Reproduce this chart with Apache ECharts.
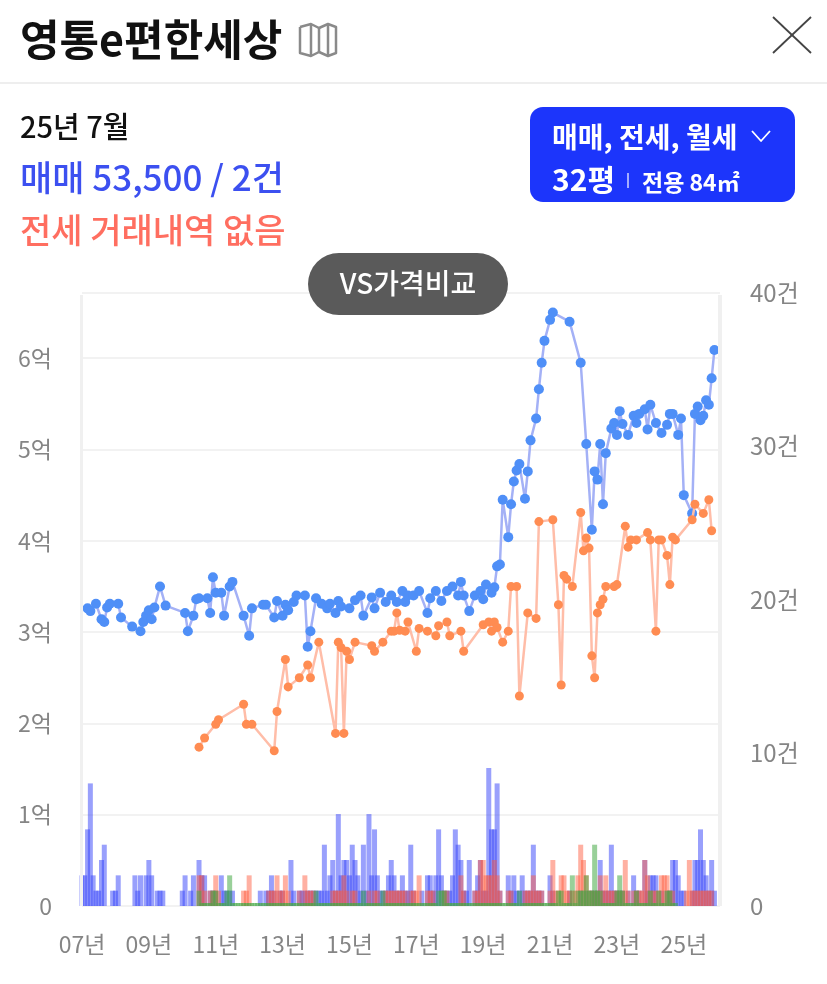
<!DOCTYPE html>
<html><head><meta charset="utf-8">
<style>html,body{margin:0;padding:0;background:#fff}#c{width:827px;height:984px}</style>
<script src="https://cdn.jsdelivr.net/npm/echarts@6/dist/echarts.min.js"></script>
</head><body><div id="c"></div>
<script>
const FONT='"Noto Sans CJK KR","Noto Sans",sans-serif';
const years=[7,8,9,10,11,12,13,14,15,16,17,18,19,20,21,22,23,24,25];
const saleMonthIdx=[2,3,5,7,8,9,10,13,14,18,21,22,23,24,25,26,28,30,37,38,40,41,42,45,46,47,48,50,51,53,54,58,60,61,65,66,69,70,72,73,74,76,77,80,81,82,84,86,88,89,91,92,93,96,98,100,101,104,105,107,109,111,113,115,116,117,119,121,124,125,127,129,131,133,135,136,137,139,141,143,144,145,147,148,149,150,151,153,154,155,156,157,159,160,161,163,164,165,166,168,169,175,179,181,183,184,185,186,187,188,190,191,192,193,194,196,198,199,200,202,203,204,206,208,210,211,212,214,215,216,219,220,221,222,223,224,225,226,227];
const salePrice=[3.26,3.23,3.31,3.14,3.11,3.27,3.31,3.31,3.16,3.06,3.01,3.11,3.18,3.24,3.14,3.27,3.50,3.29,3.21,3.01,3.18,3.36,3.37,3.37,3.21,3.60,3.43,3.43,3.18,3.50,3.55,3.18,2.96,3.26,3.30,3.30,3.16,3.34,3.18,3.30,3.24,3.33,3.40,3.40,2.84,3.01,3.37,3.31,3.26,3.31,3.21,3.34,3.28,3.26,3.35,3.40,3.18,3.38,3.26,3.43,3.33,3.40,3.33,3.45,3.33,3.40,3.40,3.45,3.21,3.37,3.45,3.34,3.45,3.50,3.40,3.55,3.40,3.23,3.40,3.45,3.36,3.52,3.43,3.49,3.72,3.74,4.45,4.04,4.40,4.65,4.77,4.84,4.46,4.76,5.10,5.34,5.66,5.95,6.19,6.42,6.50,6.40,5.95,5.06,4.12,4.76,4.67,5.06,4.40,4.96,5.23,5.29,5.16,5.42,5.28,5.16,5.37,5.29,5.39,5.44,5.22,5.49,5.29,5.18,5.27,5.39,5.39,5.16,5.34,4.50,4.30,5.39,5.47,5.32,5.37,5.54,5.49,5.78,6.09];
const leaseMonthIdx=[42,44,48,49,58,59,61,69,70,73,74,78,81,82,85,91,92,93,94,95,96,98,104,105,108,111,112,113,114,116,117,120,121,124,127,128,131,132,136,137,144,146,147,148,149,151,153,154,156,157,160,163,164,169,171,172,173,174,176,179,180,181,182,183,184,185,186,187,188,191,192,195,196,197,199,203,204,206,207,208,210,211,212,213,219,220,223,225,226];
const leasePrice=[1.74,1.84,1.99,2.04,2.21,1.99,1.99,1.70,2.13,2.70,2.40,2.50,2.64,2.50,2.89,1.89,2.89,2.83,1.89,2.79,2.70,2.89,2.85,2.79,2.89,3.01,3.01,3.21,3.02,3.01,3.11,2.79,3.04,3.01,2.96,3.07,3.11,2.96,3.01,2.79,3.08,3.11,3.01,3.11,3.05,2.89,3.01,3.50,3.50,2.30,3.21,3.15,4.21,4.23,3.30,2.42,3.62,3.58,3.50,4.31,3.89,4.03,3.92,2.74,2.50,3.21,3.30,3.36,3.50,3.50,3.52,4.16,3.93,4.01,4.01,4.09,4.01,3.01,4.01,4.01,3.84,3.52,4.04,4.01,4.23,4.40,4.30,4.45,4.11];
const saleVolume=[2,2,5,8,2,1,1,3,4,0,0,1, 1,2,0,0,0,0,0,2,1,2,0,2, 3,2,0,1,1,1,0,0,0,0,0,0, 1,2,0,1,2,0,3,2,2,0,1,1, 1,0,2,1,1,1,1,0,0,0,0,0, 0,0,0,0,1,0,1,1,2,1,0,1, 1,0,0,3,1,0,1,1,1,1,1,1, 1,1,1,4,1,2,3,1,6,2,3,3, 2,4,3,2,1,4,1,6,2,5,2,1, 1,1,2,3,2,1,1,2,1,1,4,1, 0,0,1,0,2,2,1,2,5,2,1,1, 1,2,5,4,3,1,1,3,0,1,2,3, 1,1,9,5,5,8,1,0,0,2,1,2, 1,1,2,1,1,1,4,1,1,1,0,0, 2,1,0,0,0,0,0,1,0,0,0,1, 0,1,0,1,1,1,3,1,1,1,4,1, 1,1,1,0,1,0,2,1,1,0,3,1, 2,2,2,0,1,0,1,1,3,3,2,1, 1,0,0,1,3,3,5,3,2,1,3,1];
const leaseVolume=[0,0,0,0,0,0,0,0,0,0,0,0, 0,0,0,0,0,0,0,0,0,0,0,0, 0,0,0,0,0,0,0,0,0,0,0,0, 0,0,0,0,0,0,2,2,1,0,1,1, 2,1,0,0,0,0,0,0,0,0,1,1, 2,0,0,0,0,0,0,1,1,1,2,1, 1,2,1,0,0,0,1,0,2,1,1,1, 0,0,0,0,0,0,1,1,1,1,2,1, 0,1,1,0,0,0,0,1,0,1,1,0, 0,1,1,1,1,1,1,1,1,0,1,1, 1,2,0,0,1,1,1,0,0,0,1,1, 0,0,0,0,2,1,0,0,0,1,1,3, 3,2,2,2,3,2,1,0,0,1,1,0, 0,0,0,1,1,1,2,1,1,1,0,0, 1,3,1,1,2,2,1,1,1,1,2,4, 3,2,1,1,1,1,2,1,2,1,1,1, 1,1,1,3,1,0,1,1,1,1,3,2, 1,1,1,1,2,2,2,1,1,0,0,0, 0,1,3,1,1,1,1,1,1,1,1,0];
const rentVolume=[null,null,null,null,null,null,null,null,null,null,null,null, null,null,null,null,null,null,null,null,null,null,null,null, null,null,null,null,null,null,null,null,null,null,null,null, null,null,null,null,null,null,1,0,0,0,0,1, 1,0,0,0,1,2,0,0,0,0,0,0, 0,0,0,0,0,0,0,0,0,0,0,0, 0,0,0,0,0,0,0,0,0,0,0,0, 1,0,0,0,0,0,0,0,0,0,0,0, 0,0,0,0,0,1,0,0,0,0,0,0, 1,0,0,0,0,0,0,0,0,0,0,0, 0,0,0,0,0,0,0,0,1,1,1,0, 0,0,0,0,0,0,0,0,0,0,0,0, 0,0,0,0,0,0,0,0,0,0,0,0, 0,1,0,0,0,0,0,0,0,0,0,0, 0,0,0,1,1,0,0,0,2,0,1,1, 1,2,1,1,4,1,1,0,0,0,0,0, 1,2,1,0,0,0,0,1,0,0,0,0, 1,0,0,1,0,0,1,1,0,0,null,null, null,null,null,null,null,null,null,null,null,null,null,null];
const extraMonths=['26-01','26-02'];
const priceTicks=['0','1억','2억','3억','4억','5억','6억'];
const headerTitle='영통e편한세상', dateText='25년 7월', saleText='매매 53,500 / 2건', leaseText='전세 거래내역 없음';
const filterText='매매, 전세, 월세', pyeongText='32평', areaText='전용 84㎡', compareText='VS가격비교';

const categories=[];
years.forEach(y=>{for(let m=1;m<=12;m++)categories.push(String(y).padStart(2,'0')+'-'+String(m).padStart(2,'0'));});
categories.push(...extraMonths);
const pairs=(xs,ys)=>xs.map((x,i)=>[x,ys[i]]);
const txt=(x,y,text,size,color,weight,extra)=>({type:'text',x,y,z:100,style:Object.assign({text,fontSize:size,fill:color,fontWeight:weight||'normal',fontFamily:FONT,verticalAlign:'middle',align:'left'},extra||{})});
const ln=(x1,y1,x2,y2,color,w)=>({type:'line',z:100,shape:{x1,y1,x2,y2},style:{stroke:color,lineWidth:w}});
const poly=(points,color,w)=>({type:'polyline',z:100,shape:{points},style:{stroke:color,lineWidth:w,fill:null,lineJoin:'round'}});

const chart=echarts.init(document.getElementById('c'),null,{renderer:'canvas'});
const bar=(data,color,z)=>({type:'bar',xAxisIndex:0,yAxisIndex:1,data,barWidth:5,barGap:'-100%',itemStyle:{color},z,silent:true,animation:false});
chart.setOption({
 animation:false,
 backgroundColor:'#fff',
 grid:{left:82,right:107,top:293,bottom:78},
 xAxis:{type:'category',data:categories,boundaryGap:false,
  axisLine:{show:false},axisTick:{show:false},splitLine:{show:false},
  axisLabel:{interval:(i)=>i%24===0&&i<=216,color:'#858585',fontSize:23,fontFamily:FONT,margin:27,hideOverlap:false,formatter:v=>v.slice(0,2)+'년'}},
 yAxis:[
  {type:'value',min:0,max:6.714,interval:1,axisLine:{show:false},axisTick:{show:false},
   splitLine:{lineStyle:{color:'#eeeeee',width:1.5}},
   axisLabel:{color:'#858585',fontSize:23,fontFamily:FONT,margin:30,showMaxLabel:false,formatter:v=>priceTicks[Math.round(v)]||''}},
  {type:'value',min:0,max:40,interval:10,position:'right',axisLine:{show:false},axisTick:{show:false},splitLine:{show:false},
   axisLabel:{color:'#858585',fontSize:24,fontFamily:FONT,margin:30,formatter:v=>v===0?'0':v+'건'}}
 ],
 series:[
  bar(saleVolume,'rgba(52,66,250,0.5)',2),
  bar(leaseVolume,'rgba(255,90,60,0.48)',3),
  Object.assign(bar(rentVolume,'rgba(70,170,70,0.55)',4),{barMinHeight:3}),
  {type:'line',yAxisIndex:0,data:pairs(saleMonthIdx,salePrice),symbol:'circle',symbolSize:10,showSymbol:true,showAllSymbol:true,
   lineStyle:{color:'#a4b1f6',width:2.5},itemStyle:{color:'#4f8ff7'},z:6,silent:true},
  {type:'line',yAxisIndex:0,data:pairs(leaseMonthIdx,leasePrice),symbol:'circle',symbolSize:9,showSymbol:true,showAllSymbol:true,
   lineStyle:{color:'#ffbda8',width:2.5},itemStyle:{color:'#ff8c52'},z:7,silent:true}
 ],
 graphic:{elements:[
  {type:'rect',z:90,shape:{x:80,y:295,width:3,height:611},style:{fill:'#f0f0f0'}},
  {type:'rect',z:90,shape:{x:718,y:295,width:4,height:611},style:{fill:'#f0f0f0'}},
  txt(20,40,headerTitle,43,'#111','bold',{}),
  poly([[300,27],[311,24],[319,28],[328,24],[336,27],[336,53],[328,56],[319,52],[311,56],[300,53],[300,27]],'#8a8a8a',2.5),
  ln(311,24,311,56,'#8a8a8a',2.5),ln(319,28,319,52,'#8a8a8a',2.5),ln(328,24,328,56,'#8a8a8a',2.5),
  ln(773,17,811,53,'#444',1.8),ln(811,17,773,53,'#444',1.8),
  ln(0,83,827,83,'#eeeeee',2),
  txt(20,127,dateText,29,'#111','500'),
  txt(20,178,saleText,35,'#3c50f0','500'),
  txt(20,230,leaseText,34,'#ff6e60','500'),
  {type:'rect',z:95,shape:{x:530,y:107,width:265,height:95,r:13},style:{fill:'#1c35fb'}},
  txt(552,137,filterText,28,'#fff','bold'),
  poly([[752,131],[761,141],[770,131]],'#fff',1.8),
  txt(552,180,pyeongText,30,'#fff','bold'),
  ln(628,173,628,188,'#d0d6ff',1.5),
  txt(642,182,areaText,23,'#fff','bold'),
  {type:'rect',z:95,shape:{x:308,y:253,width:200,height:62,r:31},style:{fill:'#5a5a5a'}},
  txt(408,283,compareText,28,'#fff','500',{align:'center'})
 ]}
});
</script></body></html>
